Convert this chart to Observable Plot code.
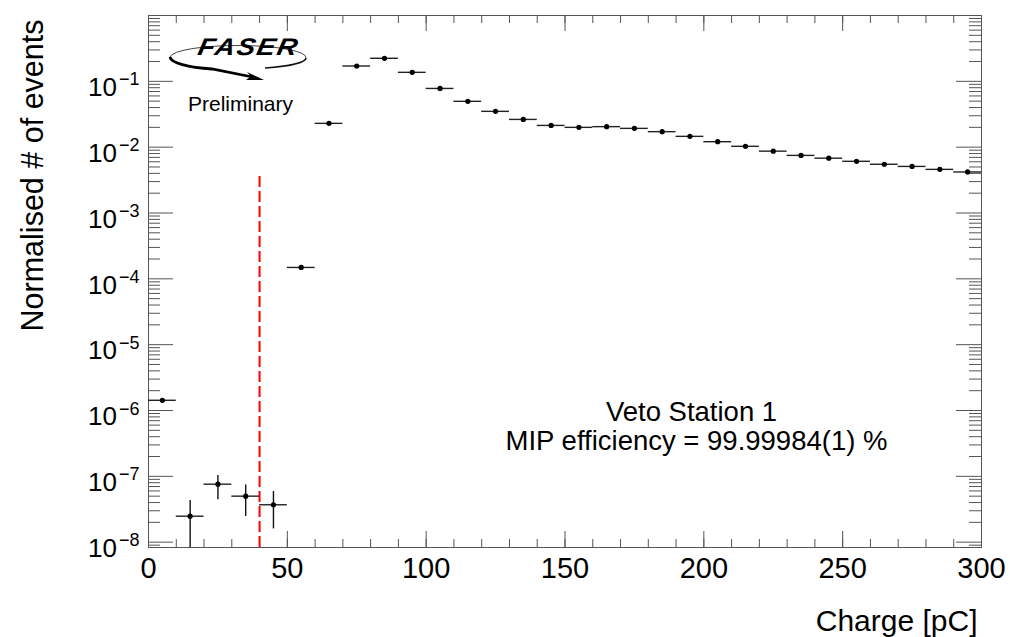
<!DOCTYPE html>
<html>
<head>
<meta charset="utf-8">
<script src="https://cdn.jsdelivr.net/npm/d3@7"></script>
<script src="https://cdn.jsdelivr.net/npm/@observablehq/plot@0.6"></script>
<style>
  html, body { margin: 0; padding: 0; background: #fff; }
  #chart { width: 1010px; height: 637px; }
</style>
</head>
<body>
<div id="chart"></div>
<script>
// ---- data (bin centres in pC, normalised counts) ----
const binCenters = [5, 15, 25, 35, 45, 55, 65, 75, 85, 95, 105, 115, 125, 135, 145, 155, 165, 175, 185, 195, 205, 215, 225, 235, 245, 255, 265, 275, 285, 295];
const binValues = [1.43e-6, 2.48e-8, 7.6e-8, 5.0e-8, 3.7e-8, 1.49e-4, 0.023, 0.171, 0.224, 0.137, 0.078, 0.0497, 0.035, 0.0264, 0.0214, 0.0200, 0.0205, 0.0193, 0.0172, 0.0146, 0.0121, 0.0103, 0.0087, 0.0075, 0.0068, 0.0061, 0.0055, 0.0051, 0.0046, 0.0042];
const binWidth = 10;
// visible vertical error bars (low-count bins)
const errCenters = [15, 25, 35, 45];
const errLow = [6e-9, 4.4e-8, 2.45e-8, 1.59e-8];
const errHigh = [4.3e-8, 1.03e-7, 7.4e-8, 5.87e-8];
// threshold line
const thresholdX = 40;
const thresholdTop = 0.004;
// axes
const xDomain = [0, 300];
const yDomain = [8.3e-9, 1];
const xTickLabels = [0, 50, 100, 150, 200, 250, 300];
const xMinorTicks = d3.range(0, 301, 10);
const yDecadeExponents = [-8, -7, -6, -5, -4, -3, -2, -1];
const xTitle = "Charge [pC]";
const yTitle = "Normalised # of events";
const annotationLines = ["Veto Station 1", "MIP efficiency = 99.99984(1) %"];
const logoText = "FASER";
const logoSubText = "Preliminary";

// ---- derived tables ----
const points = binCenters.map((x, i) => ({x, v: binValues[i]}));
const errs = errCenters.map((x, i) => ({x, lo: errLow[i], hi: errHigh[i]}));
const yMajor = yDecadeExponents.map(e => 10 ** e);
const yMinor = [];
for (let e = -9; e <= -1; e++) for (let k = 2; k <= 9; k++) {
  const v = k * 10 ** e;
  if (v >= yDomain[0] && v <= yDomain[1]) yMinor.push(v);
}

const W = 1010, H = 637;
const mL = 148, mR = 29, mT = 15, mB = 90;
const pw = W - mL - mR, ph = H - mT - mB;
const tickCol = "#555";
const font = "Liberation Sans, Arial, Helvetica, sans-serif";

const plot = Plot.plot({
  width: W, height: H,
  marginLeft: mL, marginRight: mR, marginTop: mT, marginBottom: mB,
  style: {fontFamily: font, background: "white", overflow: "visible"},
  x: {domain: xDomain, axis: null},
  y: {type: "log", domain: yDomain, axis: null},
  marks: [
    // ticks inside the frame (ROOT style)
    Plot.tickX(xMinorTicks, {x: d => d, insetTop: ph - 8, stroke: tickCol}),
    Plot.tickX(xTickLabels, {x: d => d, insetTop: ph - 16, stroke: tickCol}),
    Plot.tickX(xMinorTicks, {x: d => d, insetBottom: ph - 8, stroke: tickCol}),
    Plot.tickX(xTickLabels, {x: d => d, insetBottom: ph - 16, stroke: tickCol}),
    Plot.tickY(yMinor, {y: d => d, insetRight: pw - 12, stroke: tickCol}),
    Plot.tickY(yMajor, {y: d => d, insetRight: pw - 25, stroke: tickCol}),
    Plot.tickY(yMinor, {y: d => d, insetLeft: pw - 12, stroke: tickCol}),
    Plot.tickY(yMajor, {y: d => d, insetLeft: pw - 25, stroke: tickCol}),
    Plot.frame({stroke: tickCol, strokeWidth: 1}),
    // threshold
    Plot.ruleX([thresholdX], {x: d => d, y1: yDomain[0], y2: thresholdTop, stroke: "#ff0000", strokeWidth: 2, strokeDasharray: "11,4"}),
    // error bars
    Plot.ruleX(errs, {x: "x", y1: "lo", y2: "hi", stroke: "#111", strokeWidth: 1.4, clip: true}),
    Plot.ruleY(points, {y: "v", x1: d => d.x - binWidth / 2, x2: d => d.x + binWidth / 2, stroke: "#222", strokeWidth: 1.4, clip: true}),
    Plot.dot(points, {x: "x", y: "v", r: 2.6, fill: "black", stroke: null}),
    // x tick labels
    Plot.text(xTickLabels, {x: d => d, text: d => String(d), frameAnchor: "bottom", lineAnchor: "bottom", dy: 30, fontSize: 29}),
    // y tick labels 10^e
    Plot.text(yMajor, {y: d => d, text: () => "10", frameAnchor: "left", textAnchor: "end", lineAnchor: "bottom", dx: -31.5, dy: 14.7, fontSize: 26}),
    Plot.text(yDecadeExponents, {y: d => 10 ** d, text: d => "\u2212" + (-d), frameAnchor: "left", textAnchor: "start", lineAnchor: "bottom", dx: -29.5, dy: 4, fontSize: 18}),
    // axis titles
    Plot.text([xTitle], {text: d => d, frameAnchor: "bottom-right", textAnchor: "end", lineAnchor: "bottom", dx: -4, dy: 83.5, fontSize: 30}),
    Plot.text([yTitle], {text: d => d, frameAnchor: "top-left", textAnchor: "end", lineAnchor: "bottom", rotate: -90, dx: -106, dy: 4, fontSize: 30.5}),
    // annotation
    Plot.text([annotationLines[0]], {text: d => d, frameAnchor: "top-left", textAnchor: "middle", lineAnchor: "bottom", dx: 691 - mL, dy: 420 - mT, fontSize: 27.5}),
    Plot.text([annotationLines[1]], {text: d => d, frameAnchor: "top-left", textAnchor: "middle", lineAnchor: "bottom", dx: 696 - mL, dy: 449 - mT, fontSize: 27.5}),
    // logo subtitle
    Plot.text([logoSubText], {text: d => d, frameAnchor: "top-left", textAnchor: "middle", lineAnchor: "bottom", dx: 240 - mL, dy: 110 - mT, fontSize: 21})
  ]
});

// FASER logo decoration
const svg = d3.select(plot);
const g = svg.append("g").attr("aria-label", "logo");
g.append("path")
  .attr("d", "M170,57 A68,12 0 0 1 306,58")
  .attr("fill", "none").attr("stroke", "#444").attr("stroke-width", 1);
g.append("path")
  .attr("d", "M306,58 A68,11 0 0 1 265,68")
  .attr("fill", "none").attr("stroke", "#111").attr("stroke-width", 1.6);
g.append("path")
  .attr("d", "M170,57 C171,63 188,67.5 212,69 L255,77.5")
  .attr("fill", "none").attr("stroke", "#000").attr("stroke-width", 2.8);
g.append("path")
  .attr("d", "M264,80 L247,72 L251,76.5 L246,80 Z")
  .attr("fill", "#000");
g.append("text")
  .attr("x", 0).attr("y", 0)
  .attr("text-anchor", "middle")
  .attr("font-family", font)
  .attr("font-weight", "900")
  .attr("font-style", "italic")
  .attr("font-size", 24)
  .attr("letter-spacing", 1.5)
  .attr("transform", "translate(247,55) scale(1.15,1) skewX(-10)")
  .text(logoText);

document.getElementById("chart").appendChild(plot);
</script>
</body>
</html>
